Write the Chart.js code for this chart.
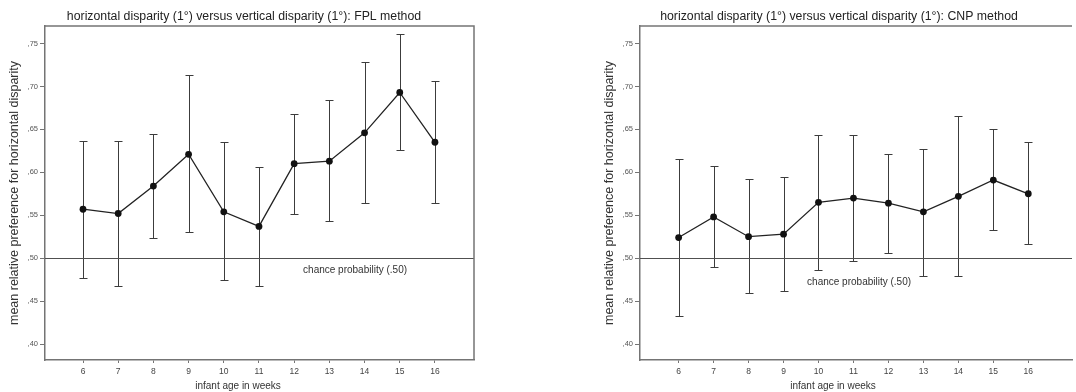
<!DOCTYPE html>
<html>
<head>
<meta charset="utf-8">
<script src="https://cdn.jsdelivr.net/npm/chart.js@4"></script>
<style>
  body { margin: 0; background: #fff; }
  #wrap { position: relative; width: 1076px; height: 392px; overflow: hidden; }
  canvas { position: absolute; top: 0; }
</style>
</head>
<body>
<div id="wrap">
  <canvas id="chartFPL" width="538" height="392" style="left:0"></canvas>
  <canvas id="chartCNP" width="538" height="392" style="left:538px"></canvas>
</div>
<script>
'use strict';

// infant age in weeks (x categories)
const weeks = [6, 7, 8, 9, 10, 11, 12, 13, 14, 15, 16];
const yTicks = [0.40, 0.45, 0.50, 0.55, 0.60, 0.65, 0.70, 0.75];
const chanceLevel = 0.5;

// FPL method: means and error bar ends
const fplMean = [0.557, 0.552, 0.584, 0.621, 0.554, 0.537, 0.610, 0.613, 0.646, 0.693, 0.635];
const fplUpper = [0.637, 0.636, 0.645, 0.713, 0.635, 0.606, 0.668, 0.684, 0.729, 0.761, 0.706];
const fplLower = [0.477, 0.468, 0.524, 0.530, 0.474, 0.468, 0.552, 0.543, 0.564, 0.626, 0.564];

// CNP method: means and error bar ends
const cnpMean = [0.524, 0.548, 0.525, 0.528, 0.565, 0.570, 0.564, 0.554, 0.572, 0.591, 0.575];
const cnpUpper = [0.616, 0.607, 0.592, 0.595, 0.644, 0.644, 0.621, 0.627, 0.666, 0.650, 0.635];
const cnpLower = [0.433, 0.490, 0.459, 0.462, 0.486, 0.497, 0.506, 0.479, 0.479, 0.533, 0.517];

const FONT = '"Liberation Sans", Arial, sans-serif';
const axisColor = '#747474';

// error bars with caps, drawn under the line
const errorBars = {
  id: 'errorBars',
  beforeDatasetsDraw(chart, args, opts) {
    const { ctx, scales: { x, y } } = chart;
    ctx.save();
    ctx.strokeStyle = '#3c3c3c';
    ctx.lineWidth = 1;
    weeks.forEach((w, i) => {
      const px = Math.round(x.getPixelForValue(w)) + 0.5;
      const top = Math.round(y.getPixelForValue(opts.upper[i])) + 0.5;
      const bottom = Math.round(y.getPixelForValue(opts.lower[i])) + 0.5;
      ctx.beginPath();
      ctx.moveTo(px, top);
      ctx.lineTo(px, bottom);
      ctx.moveTo(px - 4, top);
      ctx.lineTo(px + 4, top);
      ctx.moveTo(px - 4, bottom);
      ctx.lineTo(px + 4, bottom);
      ctx.stroke();
    });
    ctx.restore();
  }
};

// chance line + its label, frame and titles
const panelDecor = {
  id: 'panelDecor',
  beforeDatasetsDraw(chart, args, opts) {
    const { ctx, chartArea, scales: { x, y } } = chart;
    const py = Math.round(y.getPixelForValue(chanceLevel)) + 0.5;
    ctx.save();
    ctx.strokeStyle = '#505050';
    ctx.lineWidth = 1.2;
    ctx.beginPath();
    ctx.moveTo(chartArea.left, py);
    ctx.lineTo(chartArea.right, py);
    ctx.stroke();
    ctx.fillStyle = '#333';
    ctx.font = '10px ' + FONT;
    ctx.textAlign = 'center';
    ctx.textBaseline = 'middle';
    ctx.fillText('chance probability (.50)', x.getPixelForValue(opts.labelAt), py + opts.labelDy);
    ctx.restore();
  },
  afterDraw(chart, args, opts) {
    const { ctx, chartArea } = chart;
    ctx.save();
    ctx.strokeStyle = axisColor;
    ctx.lineWidth = 1.5;
    ctx.beginPath();
    ctx.moveTo(chartArea.left, chartArea.top);
    ctx.lineTo(chartArea.right, chartArea.top);
    if (opts.rightBorder) {
      ctx.lineTo(chartArea.right, chartArea.bottom);
    }
    ctx.stroke();
    ctx.fillStyle = '#222';
    ctx.textAlign = 'center';
    ctx.textBaseline = 'middle';
    ctx.font = '12.3px ' + FONT;
    ctx.fillText(opts.title, chartArea.left + 199, 17);
    ctx.fillStyle = '#333';
    ctx.font = '10px ' + FONT;
    ctx.fillText('infant age in weeks', chartArea.left + 193, 386);
    ctx.restore();
  }
};

function makePanel(canvasId, cfg) {
  const ctx = document.getElementById(canvasId).getContext('2d');
  return new Chart(ctx, {
    type: 'line',
    data: {
      datasets: [
        {
          data: weeks.map((w, i) => ({ x: w, y: cfg.mean[i] })),
          borderColor: '#222',
          borderWidth: 1.3,
          pointRadius: 3.4,
          pointBackgroundColor: '#111',
          pointBorderWidth: 0,
          tension: 0,
        },
      ],
    },
    options: {
      responsive: false,
      animation: false,
      layout: { padding: cfg.padding },
      scales: {
        x: {
          type: 'linear',
          min: cfg.xMin,
          max: cfg.xMax,
          afterBuildTicks: (axis) => { axis.ticks = weeks.map((v) => ({ value: v })); },
          afterFit: (axis) => { axis.height = 32; },
          grid: { drawOnChartArea: false, tickLength: 3, color: axisColor },
          border: { display: true, color: axisColor, width: 1.5 },
          ticks: {
            font: { family: FONT, size: 8.5 },
            color: '#444',
            padding: 4,
            maxRotation: 0,
            autoSkip: false,
            callback: (v) => String(v),
          },
        },
        y: {
          min: 0.3814,
          max: 0.7704,
          afterBuildTicks: (axis) => { axis.ticks = yTicks.map((v) => ({ value: v })); },
          afterFit: (axis) => { axis.width = 45; },
          grid: { drawOnChartArea: false, tickLength: 5, color: axisColor },
          border: { display: true, color: axisColor, width: 1.5 },
          ticks: {
            font: { family: FONT, size: 7.5 },
            color: '#555',
            padding: 2,
            callback: (v) => ',' + Math.round(v * 100),
          },
          title: {
            display: true,
            text: 'mean relative preference for horizontal disparity',
            font: { family: FONT, size: 12.5 },
            color: '#333',
            padding: { top: 7, bottom: 0 },
          },
        },
      },
      plugins: {
        legend: { display: false },
        tooltip: { enabled: false },
        errorBars: { upper: cfg.upper, lower: cfg.lower },
        panelDecor: {
          title: cfg.title,
          labelAt: cfg.labelAt,
          labelDy: cfg.labelDy,
          rightBorder: cfg.rightBorder,
        },
      },
    },
    plugins: [errorBars, panelDecor],
  });
}

makePanel('chartFPL', {
  title: 'horizontal disparity (1°) versus vertical disparity (1°): FPL method',
  mean: fplMean,
  upper: fplUpper,
  lower: fplLower,
  xMin: 4.92,
  xMax: 17.11,
  padding: { left: 0, right: 64, top: 26, bottom: 0 },
  labelAt: 13.73,
  labelDy: 12,
  rightBorder: true,
});

makePanel('chartCNP', {
  title: 'horizontal disparity (1°) versus vertical disparity (1°): CNP method',
  mean: cnpMean,
  upper: cnpUpper,
  lower: cnpLower,
  xMin: 4.895,
  xMax: 17.25,
  padding: { left: 57, right: 0, top: 26, bottom: 0 },
  labelAt: 11.16,
  labelDy: 24,
  rightBorder: false,
});
</script>
</body>
</html>
